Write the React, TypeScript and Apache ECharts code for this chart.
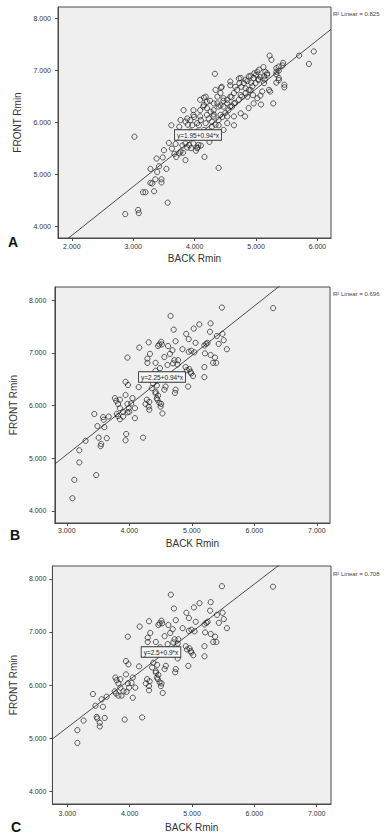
import React, { useEffect, useRef } from "react";
import * as echarts from "echarts";

const panelLetters = ["A", "B", "C"];
const equationTexts = ["y=1.95+0.94*x", "y=2.25+0.94*x", "y=2.5+0.9*x"];
const r2Texts = ["R² Linear = 0.825", "R² Linear = 0.696", "R² Linear = 0.708"];
const intercepts = [1.95, 2.25, 2.5];
const slopes = [0.94, 0.94, 0.9];
const xTicksA = [2, 3, 4, 5, 6];
const xTicksBC = [3, 4, 5, 6, 7];
const yTicks = [4, 5, 6, 7, 8];
const xAxisName = "BACK Rmin";
const yAxisName = "FRONT Rmin";

// Panel A: BACK Rmin vs FRONT Rmin
const pointsA: number[][] = [
  [2.87, 4.24], [3.08, 4.32], [3.09, 4.26], [3.16, 4.66], [3.2, 4.66], [3.34, 4.68], [3.56, 4.46],
  [3.28, 4.84], [3.31, 4.83], [3.36, 4.91], [3.46, 4.91], [3.46, 4.85], [3.28, 5.11], [3.39, 5.05],
  [3.42, 5.16], [3.54, 5.11], [3.38, 5.31], [3.48, 5.33], [3.5, 5.47], [3.02, 5.73], [3.58, 5.61],
  [3.62, 5.95], [4.39, 5.13], [4.16, 5.34], [3.85, 5.28],
  [3.63, 5.5], [3.67, 5.4], [3.7, 5.34], [3.77, 5.44], [3.75, 5.41], [3.81, 5.42], [3.88, 5.52],
  [3.69, 5.59], [3.8, 5.56], [3.85, 5.6], [3.91, 5.57], [3.98, 5.6], [4.06, 5.57], [3.94, 5.51],
  [4.05, 5.52], [4.1, 5.56], [4.24, 5.63], [4.02, 5.46], [4.04, 5.51],
  [3.88, 5.75], [4.12, 5.74], [4.22, 5.76],
  [3.93, 5.83], [4.04, 5.83], [4.15, 5.86], [4.26, 5.83], [4.37, 5.79], [4.47, 5.86],
  [3.96, 5.95], [4.07, 5.95], [4.18, 5.99], [4.28, 5.92], [4.39, 5.95], [4.53, 5.99], [4.64, 5.95],
  [3.77, 6.05], [3.85, 6.02], [3.75, 5.92],
  [3.88, 6.08], [3.98, 6.15], [4.09, 6.12], [4.2, 6.15], [4.31, 6.12], [4.42, 6.15], [4.53, 6.12],
  [4.64, 6.12], [4.75, 6.18], [4.82, 6.12],
  [3.82, 6.24], [3.98, 6.24], [4.09, 6.24], [4.2, 6.28], [4.31, 6.24], [4.39, 6.31], [4.47, 6.31],
  [4.58, 6.31], [4.64, 6.37], [4.88, 6.28],
  [4.09, 6.44], [4.14, 6.31], [4.18, 6.5], [4.2, 6.4], [4.25, 6.42], [4.34, 6.63], [4.37, 6.5],
  [4.31, 6.37], [4.15, 6.48],
  [4.42, 6.57], [4.47, 6.47], [4.53, 6.44], [4.58, 6.5], [4.44, 6.69], [4.58, 6.72], [4.43, 6.67],
  [4.64, 6.57], [4.75, 6.53], [4.86, 6.5], [4.95, 6.53], [5.02, 6.47], [4.96, 6.37], [5.1, 6.6],
  [5.07, 6.52], [5.08, 6.35],
  [4.58, 6.79], [4.66, 6.69], [4.73, 6.76], [4.83, 6.66], [4.91, 6.63], [4.72, 6.85],
  [4.75, 6.86], [4.83, 6.82], [4.88, 6.89], [5.0, 6.92], [4.96, 6.86], [5.04, 6.82], [4.92, 6.77],
  [5.15, 6.98], [5.18, 6.92], [5.13, 6.89], [5.13, 6.76], [5.21, 6.63], [5.23, 6.6], [5.28, 6.37],
  [5.33, 6.77], [5.05, 7.02], [5.12, 7.07],
  [5.33, 7.05], [5.33, 6.98], [5.33, 6.93], [5.37, 6.86], [5.37, 6.82], [5.46, 6.73], [5.46, 6.68],
  [5.44, 7.15], [5.43, 7.1], [5.37, 7.08], [5.37, 7.0],
  [5.22, 7.29], [5.25, 7.21], [5.7, 7.29], [5.94, 7.37], [5.86, 7.13], [4.33, 6.94],
  [4.15, 6.34], [4.26, 6.21], [4.31, 6.16], [4.37, 6.37], [4.42, 6.33], [4.47, 6.42], [4.53, 6.37],
  [4.6, 6.49], [4.69, 6.63], [4.76, 6.69], [4.8, 6.76], [4.86, 6.8], [4.91, 6.9], [4.97, 6.95],
  [5.02, 6.98], [5.07, 6.88], [5.14, 6.83], [5.18, 6.95],
  [3.93, 6.05], [3.99, 6.11], [4.04, 5.99], [4.1, 6.05], [3.89, 5.96], [4.23, 6.08], [4.28, 6.02],
  [4.34, 5.96], [4.39, 6.05], [4.45, 6.11], [4.5, 6.19], [4.55, 6.24], [4.61, 6.31], [4.66, 6.38],
  [4.72, 6.44], [4.77, 6.5], [4.83, 6.57], [4.88, 6.63], [4.94, 6.7], [4.99, 6.76], [5.04, 6.84],
];

// Panel B
const pointsB: number[][] = [
  [5.48, 7.86], [6.3, 7.85], [4.66, 7.7], [5.3, 7.56], [5.12, 7.54], [5.03, 7.46], [4.71, 7.44],
  [5.29, 7.4], [5.49, 7.36], [4.91, 7.36], [5.4, 7.32], [4.95, 7.26], [4.74, 7.22], [4.31, 7.2],
  [4.51, 7.21], [4.52, 7.16], [4.48, 7.16], [4.46, 7.13], [4.62, 7.13], [5.06, 7.19], [5.25, 7.19],
  [5.23, 7.17], [5.2, 7.14], [5.51, 7.24], [5.43, 7.17], [5.56, 7.07], [4.16, 7.1], [4.85, 7.07],
  [4.69, 7.05], [4.95, 7.02], [4.99, 7.04], [5.04, 7.01], [4.33, 6.98], [4.65, 6.98], [5.21, 6.99],
  [5.3, 6.96], [5.37, 6.91], [3.97, 6.91], [4.29, 6.89], [4.29, 6.81], [4.56, 6.92], [4.72, 6.86],
  [4.78, 6.86], [4.7, 6.8], [4.77, 6.78], [4.42, 6.81], [5.34, 6.81], [5.39, 6.81], [4.61, 6.77],
  [4.49, 6.71], [4.42, 6.66], [4.9, 6.73], [4.92, 6.67], [4.96, 6.69], [4.98, 6.64], [4.99, 6.61],
  [5.02, 6.56], [5.2, 6.73], [5.2, 6.54], [4.77, 6.5], [4.94, 6.36], [4.58, 6.36], [4.56, 6.3],
  [4.74, 6.3], [4.73, 6.24], [4.38, 6.42], [4.44, 6.38],
  [4.15, 6.35], [3.94, 6.45], [3.98, 6.39], [4.36, 6.33], [4.42, 6.26], [3.94, 6.2], [3.77, 6.14],
  [3.79, 6.09], [3.85, 6.11], [4.05, 6.14], [4.28, 6.11], [4.32, 6.07], [4.26, 6.03], [4.31, 5.98],
  [4.45, 6.11], [4.48, 6.05], [4.51, 6.03], [4.5, 5.98], [4.42, 6.23], [4.46, 6.19], [4.44, 6.14],
  [3.82, 6.03], [3.97, 6.03], [4.03, 6.04], [3.99, 5.95], [3.85, 5.95], [3.9, 5.88], [4.09, 5.95],
  [3.44, 5.84], [3.58, 5.78], [3.67, 5.79], [4.53, 5.85], [3.59, 5.73], [3.8, 5.84], [3.82, 5.8],
  [3.9, 5.79], [3.85, 5.74], [3.97, 5.87], [4.0, 5.88], [4.09, 5.76], [4.32, 5.92], [3.49, 5.61],
  [3.6, 5.59], [3.3, 5.33], [3.51, 5.39], [3.64, 5.38], [3.55, 5.27], [3.54, 5.23], [3.95, 5.46],
  [3.94, 5.34], [4.22, 5.39], [3.2, 5.15], [3.2, 4.92], [3.12, 4.59], [3.47, 4.68], [3.09, 4.24],
];

// Panel C
const pointsC: number[][] = [
  [5.48, 7.86], [6.3, 7.85], [4.66, 7.7], [5.3, 7.56], [5.12, 7.54], [5.03, 7.46], [4.71, 7.44],
  [5.29, 7.4], [5.49, 7.36], [4.91, 7.36], [5.4, 7.32], [4.95, 7.26], [4.74, 7.22], [4.31, 7.2],
  [4.51, 7.21], [4.52, 7.16], [4.48, 7.16], [4.46, 7.13], [4.62, 7.13], [5.06, 7.19], [5.25, 7.19],
  [5.23, 7.17], [5.2, 7.14], [5.51, 7.24], [5.43, 7.17], [5.56, 7.07], [4.16, 7.1], [4.85, 7.07],
  [4.69, 7.05], [4.95, 7.02], [4.99, 7.04], [5.04, 7.01], [4.33, 6.98], [4.65, 6.98], [5.21, 6.99],
  [5.3, 6.96], [5.37, 6.91], [3.97, 6.91], [4.29, 6.89], [4.29, 6.81], [4.56, 6.92], [4.72, 6.86],
  [4.78, 6.86], [4.7, 6.8], [4.77, 6.78], [4.42, 6.81], [5.34, 6.81], [5.39, 6.81], [4.61, 6.77],
  [4.49, 6.71], [4.42, 6.66], [4.9, 6.73], [4.92, 6.67], [4.96, 6.69], [4.98, 6.64], [4.99, 6.61],
  [5.02, 6.56], [5.2, 6.73], [5.2, 6.54], [4.77, 6.5], [4.94, 6.36], [4.58, 6.36], [4.56, 6.3],
  [4.74, 6.3], [4.73, 6.24], [4.38, 6.42], [4.44, 6.38],
  [4.15, 6.35], [3.94, 6.45], [3.98, 6.39], [4.36, 6.33], [4.42, 6.26], [3.94, 6.2], [3.77, 6.14],
  [3.79, 6.09], [3.85, 6.11], [4.05, 6.14], [4.28, 6.11], [4.32, 6.07], [4.26, 6.03], [4.31, 5.98],
  [4.45, 6.11], [4.48, 6.05], [4.51, 6.03], [4.5, 5.98], [4.42, 6.23], [4.46, 6.19], [4.44, 6.14],
  [3.82, 6.03], [3.97, 6.03], [4.03, 6.04], [3.99, 5.95], [3.85, 5.95], [3.9, 5.88], [4.09, 5.95],
  [3.41, 5.83], [3.55, 5.73], [3.63, 5.78], [4.53, 5.85], [3.76, 5.88], [3.78, 5.84], [3.82, 5.8],
  [3.87, 5.8], [3.95, 5.87], [4.05, 5.76], [4.31, 5.9], [3.45, 5.61], [3.57, 5.59],
  [3.26, 5.33], [3.47, 5.4], [3.48, 5.37], [3.6, 5.38], [3.52, 5.29], [3.52, 5.22], [3.92, 5.35],
  [4.2, 5.39], [3.16, 5.15], [3.16, 4.91],
];

const allPoints = [pointsA, pointsB, pointsC];

const FONT = "Arial, 'Liberation Sans', sans-serif";

export default function App() {
  const ref = useRef<HTMLDivElement>(null);

  useEffect(() => {
    if (!ref.current) return;
    const chart = echarts.init(ref.current, undefined, { renderer: "svg" });

    const grids = [
      { left: 58, top: 7, width: 273, height: 231 },
      { left: 51, top: 287, width: 279, height: 236 },
      { left: 48, top: 566, width: 283, height: 238 },
    ];
    const xRanges = [
      [1.775, 6.22],
      [2.81, 7.21],
      [2.76, 7.23],
    ];
    const yRanges = [
      [3.78, 8.226],
      [3.77, 8.25],
      [3.76, 8.24],
    ];
    const xTickSets = [xTicksA, xTicksBC, xTicksBC];
    const xNameGaps = [15, 15.5, 18.5];
    const xLabelMargins = [5, 4, 5.5];
    const yNameGaps = [32, 29, 25];
    const yLabelMargins = [7, 8.5, 6];

    const xAxes = grids.map((_, i) => ({
      type: "value",
      gridIndex: i,
      min: xRanges[i][0],
      max: xRanges[i][1],
      name: xAxisName,
      nameLocation: "middle",
      nameGap: xNameGaps[i],
      nameTextStyle: { fontFamily: FONT, fontSize: 10, color: "#333" },
      splitLine: { show: false },
      axisLine: { show: true, lineStyle: { color: "#4a4a4a", width: 1 } },
      axisTick: { show: true, length: 3, lineStyle: { color: "#4a4a4a" }, customValues: xTickSets[i] },
      axisLabel: {
        customValues: xTickSets[i],
        formatter: (v: number) => v.toFixed(3),
        fontFamily: FONT,
        fontSize: 7,
        color: "#333",
        margin: xLabelMargins[i],
      },
    }));

    const yAxes = grids.map((_, i) => ({
      type: "value",
      gridIndex: i,
      min: yRanges[i][0],
      max: yRanges[i][1],
      name: yAxisName,
      nameLocation: "middle",
      nameGap: yNameGaps[i],
      nameTextStyle: { fontFamily: FONT, fontSize: 10, color: "#333" },
      splitLine: { show: false },
      axisLine: { show: true, lineStyle: { color: "#4a4a4a", width: 1 } },
      axisTick: { show: true, length: 3, lineStyle: { color: "#4a4a4a" }, customValues: yTicks },
      axisLabel: {
        customValues: yTicks,
        formatter: (v: number) => v.toFixed(3),
        fontFamily: FONT,
        fontSize: 7,
        color: "#333",
        margin: yLabelMargins[i],
      },
    }));

    const series: any[] = [];
    allPoints.forEach((pts, i) => {
      const x0 = xRanges[i][0];
      const x1 = xRanges[i][1];
      series.push({
        type: "line",
        xAxisIndex: i,
        yAxisIndex: i,
        data: [
          [x0, intercepts[i] + slopes[i] * x0],
          [x1, intercepts[i] + slopes[i] * x1],
        ],
        showSymbol: false,
        symbol: "none",
        clip: true,
        lineStyle: { color: "#222", width: 0.8 },
        z: 3,
      });
      series.push({
        type: "scatter",
        xAxisIndex: i,
        yAxisIndex: i,
        data: pts,
        symbol: "circle",
        symbolSize: 5.2,
        itemStyle: { color: "rgba(0,0,0,0)", borderColor: "#1e1e1e", borderWidth: 0.9 },
        z: 4,
      });
    });

    const eqPos = [
      [198, 135],
      [162, 377],
      [161, 652],
    ];
    const r2Pos = [14, 294, 574];
    const letterPos = [
      [13, 242],
      [15, 535],
      [16, 827],
    ];

    const graphics: any[] = [];
    for (let i = 0; i < 3; i++) {
      graphics.push({
        type: "text",
        x: eqPos[i][0],
        y: eqPos[i][1],
        z: 10,
        style: {
          text: equationTexts[i],
          fontFamily: FONT,
          fontSize: 6.5,
          fill: "#222",
          align: "center",
          verticalAlign: "middle",
          backgroundColor: "#f7f7f7",
          borderColor: "#333",
          borderWidth: 0.9,
          padding: [1.5, 2, 1, 2],
        },
      });
      graphics.push({
        type: "text",
        x: 333,
        y: r2Pos[i],
        style: {
          text: r2Texts[i],
          fontFamily: FONT,
          fontSize: 6,
          fill: "#444",
          align: "left",
          verticalAlign: "middle",
        },
      });
      graphics.push({
        type: "text",
        x: letterPos[i][0],
        y: letterPos[i][1],
        style: {
          text: panelLetters[i],
          fontFamily: FONT,
          fontSize: 14,
          fontWeight: "bold",
          fill: "#111",
          align: "center",
          verticalAlign: "middle",
        },
      });
    }

    chart.setOption({
      animation: false,
      backgroundColor: "#ffffff",
      grid: grids.map((g) => ({
        ...g,
        show: true,
        backgroundColor: "#efefef",
        borderColor: "#4a4a4a",
        borderWidth: 1,
      })),
      xAxis: xAxes,
      yAxis: yAxes,
      series,
      graphic: graphics,
    });

    return () => chart.dispose();
  }, []);

  return (
    <div
      ref={ref}
      style={{ position: "absolute", left: 0, top: 0, width: 388, height: 838, background: "#fff" }}
    />
  );
}
